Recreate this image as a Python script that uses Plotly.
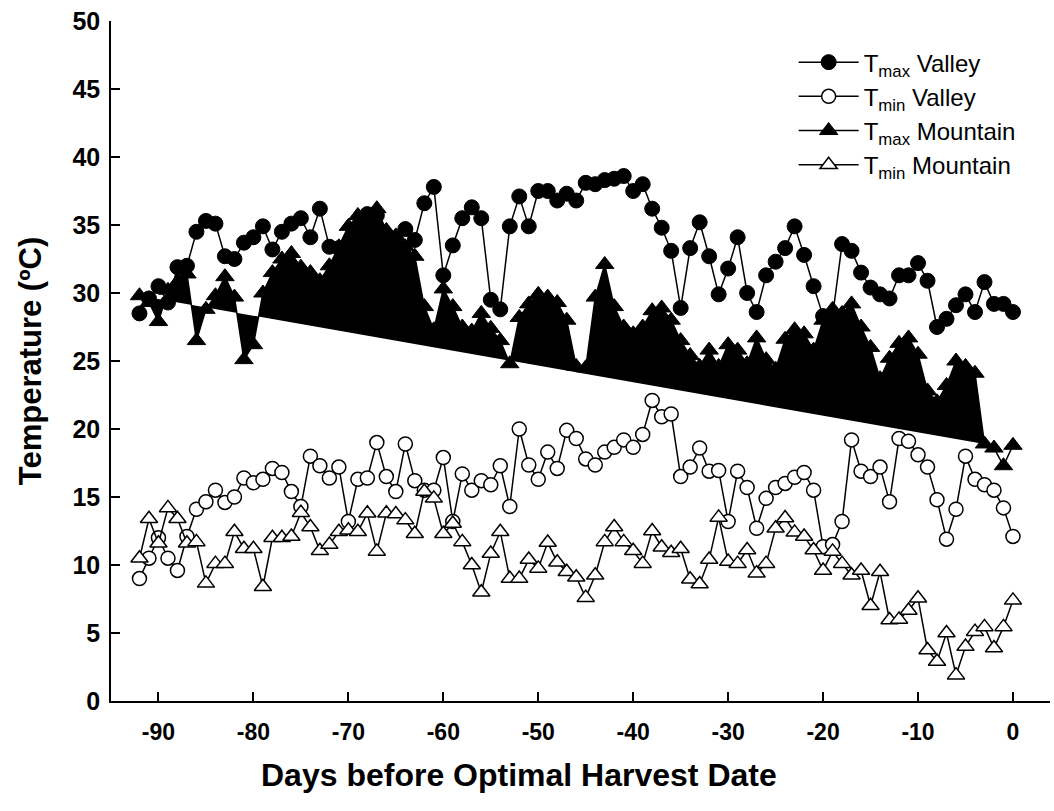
import plotly.graph_objects as go

days = list(range(-92, 1))

tmax_valley = [28.5, 29.6, 30.5, 29.3, 31.9, 32.0, 34.5, 35.3, 35.1, 32.7,
               32.5, 33.7, 34.1, 34.9, 33.2, 34.5, 35.1, 35.5, 34.1, 36.2,
               33.4, 33.3, 33.0, 34.6, 35.8, 35.7, 34.2, 33.8, 34.7, 33.9,
               36.6, 37.8, 31.3, 33.5, 35.5, 36.3, 35.5, 29.5, 28.8, 34.9,
               37.1, 34.9, 37.5, 37.5, 36.8, 37.3, 36.8, 38.1, 38.0, 38.3,
               38.4, 38.6, 37.5, 38.0, 36.2, 34.8, 33.1, 28.9, 33.3, 35.2,
               32.7, 29.9, 31.8, 34.1, 30.0, 28.6, 31.3, 32.3, 33.3, 34.9,
               32.8, 30.5, 28.3, 28.3, 33.6, 33.1, 31.5, 30.4, 29.9, 29.6,
               31.3, 31.3, 32.2, 30.9, 27.5, 28.1, 29.1, 29.9, 28.6, 30.8,
               29.2, 29.2, 28.6]

tmin_valley = [9.0, 10.5, 12.0, 10.5, 9.6, 12.1, 14.1, 14.65, 15.5, 14.6,
               15.0, 16.4, 16.05, 16.3, 17.1, 16.8, 15.4, 14.3, 18.0, 17.3,
               16.4, 17.2, 13.2, 16.3, 16.4, 19.0, 16.5, 15.4, 18.9, 16.2,
               15.5, 15.5, 17.9, 13.2, 16.7, 15.5, 16.2, 15.9, 17.3, 14.3,
               20.0, 17.35, 16.3, 18.3, 17.1, 19.9, 19.3, 17.8, 17.35, 18.3,
               18.65, 19.2, 18.65, 19.6, 22.1, 20.9, 21.1, 16.5, 17.2, 18.6,
               16.9, 16.95, 13.2, 16.9, 15.7, 12.7, 14.9, 15.7, 16.0, 16.45,
               16.8, 15.5, 11.35, 11.5, 13.2, 19.2, 16.9, 16.5, 17.2, 14.65,
               19.3, 19.1, 18.1, 17.2, 14.8, 11.9, 14.1, 18.0, 16.3, 15.9,
               15.5, 14.2, 12.1]

tmax_mountain = [29.8, 29.3, 27.9, 30.2, 30.8, 31.4, 26.5, 28.8, 29.8, 31.2,
                 29.7, 25.1, 26.2, 30.0, 31.5, 32.5, 32.9, 31.9, 31.5, 30.9,
                 32.0, 33.4, 34.9, 35.7, 35.6, 36.2, 34.6, 34.2, 33.4, 32.7,
                 29.0, 27.3, 30.3, 29.0, 27.5, 27.2, 28.5, 27.4, 26.5, 24.8,
                 28.2, 29.2, 29.9, 29.7, 29.3, 28.0, 24.6, 24.5, 29.7, 32.1,
                 29.0, 27.5, 27.0, 27.5, 28.7, 28.9, 28.0, 26.5, 25.4, 24.6,
                 25.8, 24.6, 26.2, 25.8, 24.8, 26.7, 25.1, 24.4, 26.6, 27.3,
                 27.0, 25.8, 28.0, 28.8, 28.5, 29.2, 27.5, 26.0, 23.7, 25.2,
                 26.3, 26.7, 25.5, 22.8, 22.0, 23.2, 25.0, 24.6, 24.1, 18.9,
                 18.6, 17.3, 18.8]

tmin_mountain = [10.5, 13.4, 11.6, 14.2, 13.4, 11.6, 11.7, 8.65, 10.1, 10.1,
                 12.45, 11.2, 11.2, 8.4, 12.0, 12.0, 12.1, 13.85, 12.8, 11.05,
                 11.5, 12.45, 12.55, 12.45, 13.8, 11.0, 13.8, 13.75, 13.3, 12.3,
                 15.4, 14.9, 12.3, 13.05, 11.7, 10.0, 8.0, 10.85, 12.45, 9.0,
                 9.0, 10.4, 9.75, 11.65, 10.2, 9.5, 9.1, 7.6, 9.25, 11.7,
                 12.8, 11.7, 11.05, 10.1, 12.5, 11.3, 10.9, 11.2, 8.95, 8.6,
                 10.4, 13.5, 10.25, 10.1, 11.1, 9.4, 10.1, 12.7, 13.45, 12.4,
                 12.1, 11.1, 9.6, 11.0, 10.1, 9.25, 9.6, 7.0, 9.5, 5.95,
                 6.0, 6.65, 7.55, 3.75, 2.9, 5.0, 1.9, 4.0, 5.1, 5.45,
                 3.9, 5.45, 7.4]

# the shaded Tmax Mountain polygon runs from the first day to day -3
fill_end = days.index(-3) + 1

x_ticks = [-90, -80, -70, -60, -50, -40, -30, -20, -10, 0]
x_tick_labels = ["-90", "-80", "-70", "-60", "-50", "-40", "-30", "-20", "-10", "0"]
y_ticks = [0, 5, 10, 15, 20, 25, 30, 35, 40, 45, 50]
y_tick_labels = ["0", "5", "10", "15", "20", "25", "30", "35", "40", "45", "50"]

FONT = "Liberation Sans, Arial, sans-serif"
LW = 1.5

fig = go.Figure()

fig.add_trace(go.Scatter(
    x=days[:fill_end], y=tmax_mountain[:fill_end], mode="lines",
    fill="toself", fillcolor="black", line=dict(width=0, color="black"),
    showlegend=False, hoverinfo="skip"))

fig.add_trace(go.Scatter(
    x=days, y=tmax_valley, mode="lines+markers",
    name="T<sub>max</sub> Valley", legendrank=1,
    line=dict(color="black", width=LW),
    marker=dict(symbol="circle", size=15, color="black",
                line=dict(color="black", width=1))))

fig.add_trace(go.Scatter(
    x=days, y=tmin_valley, mode="lines+markers",
    name="T<sub>min</sub> Valley", legendrank=2,
    line=dict(color="black", width=LW),
    marker=dict(symbol="circle", size=14, color="white",
                line=dict(color="black", width=1.5))))

fig.add_trace(go.Scatter(
    x=days, y=tmax_mountain, mode="lines+markers",
    name="T<sub>max</sub> Mountain", legendrank=3,
    line=dict(color="black", width=LW),
    marker=dict(symbol="triangle-up", size=16, color="black",
                line=dict(color="black", width=1))))

fig.add_trace(go.Scatter(
    x=days, y=tmin_mountain, mode="lines+markers",
    name="T<sub>min</sub> Mountain", legendrank=4,
    line=dict(color="black", width=LW),
    marker=dict(symbol="triangle-up", size=15, color="white",
                line=dict(color="black", width=1.5))))

fig.add_annotation(
    text="<b>Days before Optimal Harvest Date</b>",
    xref="paper", yref="paper", x=0.435, y=-0.109,
    xanchor="center", yanchor="middle", showarrow=False,
    font=dict(size=32, family=FONT, color="black"))

fig.update_layout(
    width=1054, height=811,
    margin=dict(l=111, r=4, t=21, b=110),
    paper_bgcolor="white", plot_bgcolor="white",
    font=dict(family=FONT, color="black"),
    legend=dict(x=0.727, y=0.972, xanchor="left", yanchor="top",
                bgcolor="rgba(0,0,0,0)", font=dict(size=24, family=FONT),
                itemwidth=60, tracegroupgap=0),
    xaxis=dict(range=[-95, 3.9], tickvals=x_ticks, ticktext=x_tick_labels,
               showgrid=False,
               zeroline=False, showline=True, linecolor="black", linewidth=LW,
               ticks="inside", ticklen=9, tickwidth=LW, tickcolor="black",
               ticklabelstandoff=10,
               tickfont=dict(size=23, family=FONT, weight="bold")),
    yaxis=dict(range=[0, 50], tickvals=y_ticks, ticktext=y_tick_labels,
               showgrid=False,
               zeroline=False, showline=True, linecolor="black", linewidth=LW,
               ticks="inside", ticklen=9, tickwidth=LW, tickcolor="black",
               ticklabelstandoff=4,
               tickfont=dict(size=25, family=FONT, weight="bold"),
               title=dict(text="<b>Temperature (ºC)</b>",
                          font=dict(size=31, family=FONT), standoff=22)),
)

fig.write_html("out.html")
